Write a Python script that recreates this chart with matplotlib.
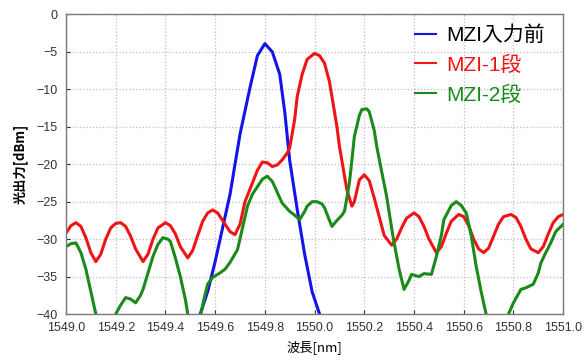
import matplotlib
matplotlib.use("Agg")
import matplotlib.pyplot as plt

# wavelength [nm] / optical power [dBm]
blue_x = [1549.52, 1549.54, 1549.57, 1549.60, 1549.63, 1549.66, 1549.70, 1549.74,
          1549.77, 1549.80, 1549.83, 1549.86, 1549.88, 1549.90, 1549.93, 1549.96,
          1549.99, 1550.02, 1550.04]
blue_y = [-42.5, -40.0, -37.0, -33.0, -28.5, -24.0, -16.0, -9.8,
          -5.5, -3.9, -5.0, -8.0, -13.0, -19.5, -26.0, -32.0,
          -37.0, -40.0, -42.5]

red_x = [1549.00, 1549.02, 1549.04, 1549.06, 1549.08, 1549.10, 1549.12, 1549.14,
         1549.16, 1549.18, 1549.20, 1549.22, 1549.24, 1549.26, 1549.28, 1549.31,
         1549.33, 1549.35, 1549.37, 1549.40, 1549.42, 1549.44, 1549.46, 1549.49,
         1549.51, 1549.53, 1549.55, 1549.57, 1549.59, 1549.61, 1549.63, 1549.66,
         1549.68, 1549.70, 1549.72, 1549.75, 1549.77, 1549.79, 1549.81, 1549.83,
         1549.85, 1549.87, 1549.89, 1549.90, 1549.92, 1549.93, 1549.95, 1549.97,
         1550.00, 1550.02, 1550.04, 1550.06, 1550.07, 1550.09, 1550.10, 1550.12,
         1550.13, 1550.15, 1550.16, 1550.18, 1550.20, 1550.22, 1550.24, 1550.26,
         1550.28, 1550.31, 1550.33, 1550.35, 1550.37, 1550.40, 1550.42, 1550.44,
         1550.46, 1550.49, 1550.51, 1550.53, 1550.55, 1550.58, 1550.60, 1550.62,
         1550.64, 1550.66, 1550.68, 1550.70, 1550.72, 1550.74, 1550.76, 1550.79,
         1550.81, 1550.83, 1550.85, 1550.87, 1550.90, 1550.92, 1550.94, 1550.96,
         1550.98, 1551.00]
red_y = [-29.2, -28.2, -27.8, -28.3, -29.8, -31.8, -33.0, -32.0,
         -30.0, -28.5, -27.9, -27.8, -28.3, -29.6, -31.3, -33.0,
         -32.0, -30.0, -28.5, -27.8, -28.2, -29.3, -31.0, -32.5,
         -31.5, -29.5, -27.6, -26.5, -26.1, -26.5, -27.5, -29.0,
         -29.4, -28.0, -25.0, -22.5, -20.8, -19.7, -19.8, -20.3,
         -20.1, -19.4, -18.5, -17.8, -14.0, -11.0, -8.0, -6.0,
         -5.2, -5.5, -6.5, -9.0, -11.0, -15.0, -17.6, -21.5,
         -23.4, -25.6, -25.0, -22.1, -21.4, -22.2, -24.5, -27.0,
         -29.5, -30.8, -30.0, -28.5, -27.2, -26.5, -27.0, -28.3,
         -30.0, -31.8, -31.0, -29.2, -27.6, -26.7, -27.0, -28.2,
         -30.0, -31.3, -31.8, -31.2, -29.6, -28.0, -27.0, -26.7,
         -27.1, -28.3, -30.0, -31.3, -31.8, -31.0, -29.3, -27.8,
         -27.0, -26.7]

green_x = [1549.00, 1549.02, 1549.04, 1549.06, 1549.08, 1549.10, 1549.12, 1549.14,
           1549.18, 1549.20, 1549.22, 1549.24, 1549.26, 1549.28, 1549.30, 1549.31,
           1549.33, 1549.35, 1549.37, 1549.39, 1549.41, 1549.42, 1549.44, 1549.46,
           1549.48, 1549.49, 1549.51, 1549.53, 1549.555, 1549.57, 1549.59, 1549.62,
           1549.64, 1549.66, 1549.69, 1549.71, 1549.73, 1549.75, 1549.77, 1549.79,
           1549.81, 1549.83, 1549.84, 1549.86, 1549.87, 1549.90, 1549.92, 1549.94,
           1549.96, 1549.97, 1549.99, 1550.01, 1550.03, 1550.04, 1550.06, 1550.07,
           1550.09, 1550.11, 1550.12, 1550.13, 1550.14, 1550.15, 1550.16, 1550.18,
           1550.19, 1550.21, 1550.22, 1550.24, 1550.25, 1550.27, 1550.29, 1550.31,
           1550.32, 1550.34, 1550.36, 1550.38, 1550.39, 1550.42, 1550.44, 1550.47,
           1550.49, 1550.51, 1550.52, 1550.55, 1550.57, 1550.59, 1550.61, 1550.63,
           1550.65, 1550.67, 1550.69, 1550.71, 1550.76, 1550.78, 1550.80, 1550.83,
           1550.85, 1550.88, 1550.90, 1550.91, 1550.93, 1550.95, 1550.97, 1551.00]
green_y = [-31.0, -30.6, -30.5, -31.8, -34.0, -37.0, -40.0, -42.5,
           -42.5, -40.0, -38.8, -37.8, -38.0, -38.5, -37.5, -36.7,
           -34.5, -32.3, -30.7, -29.8, -30.0, -30.3, -32.5, -35.0,
           -38.0, -40.0, -42.5, -42.0, -38.0, -36.0, -35.1, -34.5,
           -34.0, -33.1, -31.4, -28.5, -25.6, -24.0, -23.0, -22.0,
           -21.6, -22.3, -23.0, -24.5, -25.2, -26.3, -26.8, -27.4,
           -26.3, -25.6, -25.0, -25.0, -25.3, -25.8, -27.5, -28.3,
           -27.5, -26.8, -26.3, -24.5, -22.5, -19.5, -16.3, -13.5,
           -12.7, -12.6, -13.0, -15.5, -17.6, -21.0, -24.3, -28.5,
           -30.5, -34.0, -36.7, -35.5, -34.7, -35.0, -34.6, -34.7,
           -32.3, -29.5, -27.4, -25.5, -25.0, -25.5, -26.5, -29.5,
           -33.6, -37.0, -40.0, -42.5, -42.5, -40.0, -38.5, -36.7,
           -36.5, -36.0, -34.5, -33.2, -31.8, -30.5, -29.0, -28.0]

labels = ["MZI入力前", "MZI-1段", "MZI-2段"]
colors = ["#1414e6", "#f01414", "#1a8a1a"]
label_colors = ["black", "#f01414", "#1a8a1a"]

x_ticks = [1549.0 + 0.2 * i for i in range(11)]
y_ticks = [0, -5, -10, -15, -20, -25, -30, -35, -40]

plt.rcParams['font.family'] = ['Liberation Sans', 'Noto Sans CJK JP', 'DejaVu Sans']

fig = plt.figure(figsize=(5.87, 3.61), dpi=100)
ax = fig.add_axes([0.1124, 0.130, 0.847, 0.830])

for xs, ys, c, lab in zip([blue_x, red_x, green_x], [blue_y, red_y, green_y], colors, labels):
    ax.plot(xs, ys, color=c, lw=2.2, label=lab, solid_joinstyle='round')

ax.set_xlim(1549.0, 1551.0)
ax.set_ylim(-40, 0)
ax.set_xticks(x_ticks)
ax.set_xticklabels([f"{t:.1f}" for t in x_ticks])
ax.set_yticks(y_ticks)
ax.grid(True, linestyle=':', color='#bdbdbd', lw=0.9)
ax.tick_params(direction='in', length=3, labelsize=9, colors='#333333', pad=6)
for s in ax.spines.values():
    s.set_color('#7a7a7a')
    s.set_linewidth(1.0)

ax.set_xlabel("波長[nm]", fontsize=9.5, family=['Noto Sans CJK JP', 'DejaVu Sans'], labelpad=4)
ax.set_ylabel("光出力[dBm]", fontsize=9.5, family=['Noto Sans CJK JP', 'DejaVu Sans'],
              fontweight='bold', labelpad=6)

leg = ax.legend(loc='upper right', frameon=False, labelcolor=label_colors,
                prop={'family': ['Liberation Sans', 'Noto Sans CJK JP', 'DejaVu Sans'], 'size': 15},
                handlelength=1.0, handletextpad=0.5, labelspacing=0.5,
                borderaxespad=0.1, bbox_to_anchor=(0.985, 0.998))
for line in leg.get_lines():
    line.set_linewidth(1.5)

fig.savefig("out.png", dpi=100, facecolor='white')
